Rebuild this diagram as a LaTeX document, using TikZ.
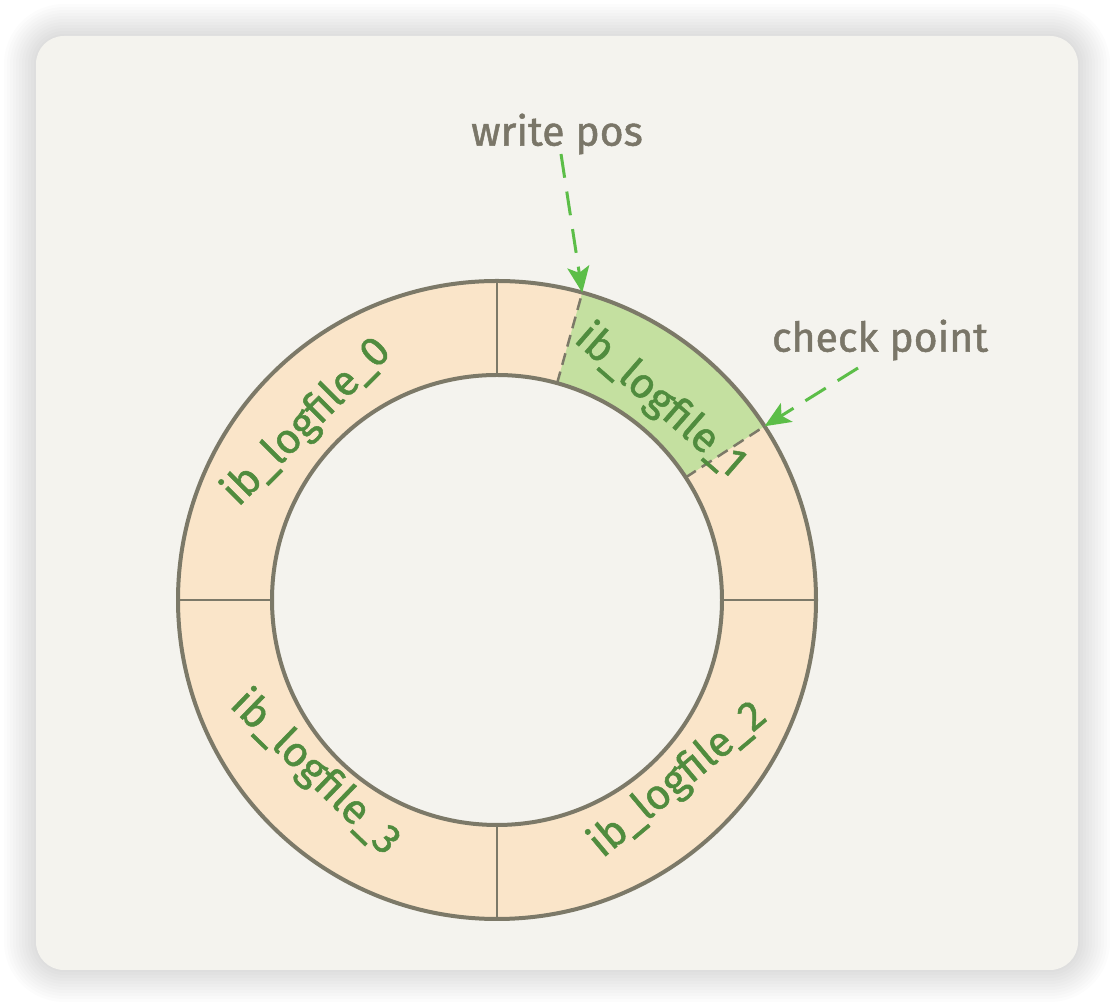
\documentclass[tikz,border=0pt]{standalone}
\usepackage{fontspec}
\setmainfont{Fira Sans}
\newfontfamily\handfont{Fira Sans}[FakeBold=1.2]
\usetikzlibrary{arrows.meta}
\definecolor{cardbg}{RGB}{244,243,238}
\definecolor{peach}{RGB}{250,229,201}
\definecolor{lgreen}{RGB}{196,224,160}
\definecolor{ringline}{RGB}{124,121,104}
\definecolor{labgreen}{RGB}{80,140,62}
\definecolor{arrgreen}{RGB}{92,190,72}
\definecolor{notegray}{RGB}{122,118,104}
\tikzset{
  ring/.style={draw=ringline, line width=4pt},
  divider/.style={draw=ringline, line width=2.5pt},
  bound/.style={draw=ringline, line width=2.5pt, dash pattern=on 12pt off 7pt},
  filelabel/.style={text=labgreen, font=\handfont\fontsize{42}{44}\selectfont, inner sep=0pt},
  note/.style={text=notegray, font=\handfont\fontsize{41}{44}\selectfont, inner sep=0pt},
  pointer/.style={draw=arrgreen, line width=3pt, dash pattern=on 24pt off 14pt,
    -{Stealth[length=26pt,width=22pt,inset=6pt]}},
}
\begin{document}
\begin{tikzpicture}[x=1pt,y=1pt]
\useasboundingbox (0,0) rectangle (1114,1006);
\fill[white] (0,0) rectangle (1114,1006);
% soft shadow of the card
\foreach \i in {32,29,...,2} {
  \fill[black, opacity=0.013, rounded corners={(28+\i)*1pt}] (36-\i,36-\i) rectangle (1078+\i,970+\i);
}
% card
\fill[cardbg, rounded corners=28pt] (36,36) rectangle (1078,970);

% ring
\begin{scope}[shift={(497,406)}]
  \fill[peach, even odd rule] (0,0) circle[radius=319pt] (0,0) circle[radius=225pt];
  \fill[lgreen] (33:225pt) -- (33:319pt) arc[start angle=33, end angle=74.5, radius=319pt]
     -- (74.5:225pt) arc[start angle=74.5, end angle=33, radius=225pt] -- cycle;
  \draw[divider] (90:225pt) -- (90:319pt);
  \draw[divider] (180:225pt) -- (180:319pt);
  \draw[divider] (0:225pt) -- (0:319pt);
  \draw[divider] (270:225pt) -- (270:319pt);
  \draw[bound] (74.5:225pt) -- (74.5:319pt);
  \draw[bound] (33:225pt) -- (33:319pt);
  \draw[ring] (0,0) circle[radius=319pt];
  \draw[ring] (0,0) circle[radius=225pt];
  \coordinate (wp) at (74.5:319pt);
  \coordinate (cp) at (33:319pt);
\end{scope}

% file labels
\node[filelabel, rotate=45]  (f0) at (307,584) {ib\_logfile\_0};
\node[filelabel, rotate=-41] (f1) at (660,605) {ib\_logfile\_1};
\node[filelabel, rotate=40]  (f2) at (678,226) {ib\_logfile\_2};
\node[filelabel, rotate=-44] (f3) at (315,233) {ib\_logfile\_3};

% annotations
\node[note] (wpt) at (557,872) {write pos};
\node[note] (cpt) at (880,666) {check point};
\coordinate (wps) at (561,852);
\coordinate (cps) at (858,638);
\draw[pointer] (wps) -- (wp);
\draw[pointer] (cps) -- (cp);
\end{tikzpicture}
\end{document}
